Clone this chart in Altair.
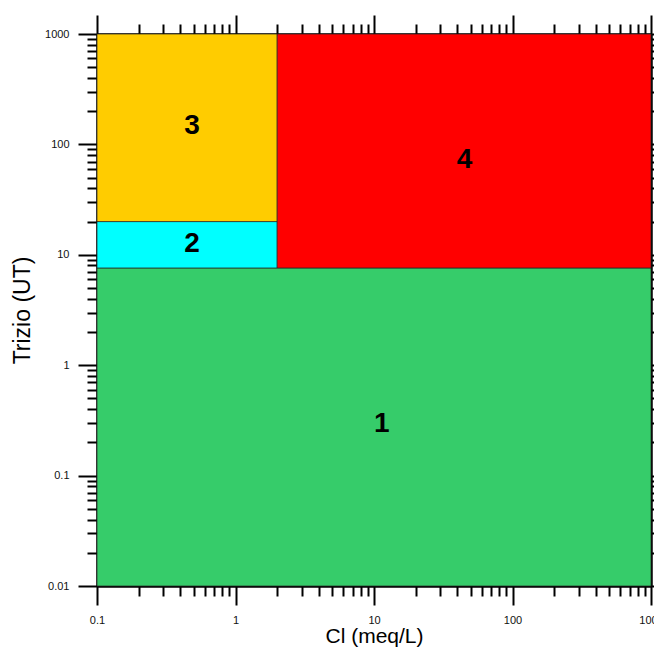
import altair as alt
import pandas as pd

# Regions (rectangles)
regions = ["1", "2", "3", "4"]
x_lo = [0.1, 0.1, 0.1, 2]
x_hi = [1000, 2, 2, 1000]
y_lo = [0.01, 7.6, 20, 7.6]
y_hi = [7.6, 20, 1000, 1000]
colors = ["#36cc6a", "#00ffff", "#ffcc00", "#ff0000"]

# Label positions (data coordinates)
label_x = [11.4, 0.485, 0.485, 45]
label_y = [0.296, 12.4, 147, 72]

# Axis ticks
x_major = [0.1, 1, 10, 100, 1000]
y_major = [0.01, 0.1, 1, 10, 100, 1000]
mult = [2, 3, 4, 5, 6, 7, 8, 9]
x_minor = [m * d for d in [0.1, 1, 10, 100] for m in mult]
y_minor = [m * d for d in [0.01, 0.1, 1, 10, 100] for m in mult]

rect_df = pd.DataFrame({"region": regions, "x": x_lo, "x2": x_hi, "y": y_lo, "y2": y_hi})
text_df = pd.DataFrame({"region": regions, "x": label_x, "y": label_y})

FONT = "Liberation Sans"
xscale = alt.Scale(type="log", domain=[0.1, 1000], nice=False)
yscale = alt.Scale(type="log", domain=[0.01, 1000], nice=False)

common = dict(grid=False, domainColor="black", domainWidth=2, tickColor="black",
              tickWidth=2, labelFont=FONT, labelColor="#111111", labelFontSize=11,
              labelFlush=False, labelOverlap=False)


def ax(orient, values, size, labels=False, title=None, **kw):
    opts = dict(common)
    opts.update(orient=orient, values=values, tickSize=size, labels=labels, title=title)
    opts.update(kw)
    return alt.Axis(**opts)


x_bottom_major = ax("bottom", x_major, 19, labels=True, title="Cl (meq/L)", format="~g",
                    labelPadding=9, titleFont=FONT, titleFontSize=21, titleFontWeight="normal",
                    titleColor="black", titleBaseline="alphabetic", titleY=56)
y_left_major = ax("left", y_major, 19, labels=True, title="Trizio (UT)", format="~g",
                  labelPadding=9, titleFont=FONT, titleFontSize=23, titleFontWeight="normal",
                  titleColor="black", titleBaseline="alphabetic", titleX=-68)

rects = alt.Chart(rect_df).mark_rect(stroke="#222222", strokeWidth=1, strokeOpacity=0.7).encode(
    x=alt.X("x:Q", scale=xscale, axis=x_bottom_major),
    x2="x2:Q",
    y=alt.Y("y:Q", scale=yscale, axis=y_left_major),
    y2="y2:Q",
    color=alt.Color("region:N", scale=alt.Scale(domain=regions, range=colors), legend=None),
)

texts = alt.Chart(text_df).mark_text(font=FONT, fontSize=28, fontWeight="bold", color="black",
                                     baseline="middle", align="center").encode(
    x=alt.X("x:Q", scale=xscale, axis=ax("bottom", x_minor, 10)),
    y=alt.Y("y:Q", scale=yscale, axis=ax("left", y_minor, 10)),
    text="region:N",
)

top_major = alt.Chart(text_df).mark_point(opacity=0).encode(
    x=alt.X("x:Q", scale=xscale, axis=ax("top", x_major, 19)),
    y=alt.Y("y:Q", scale=yscale, axis=ax("right", y_major, 19)),
)
top_minor = alt.Chart(text_df).mark_point(opacity=0).encode(
    x=alt.X("x:Q", scale=xscale, axis=ax("top", x_minor, 10)),
    y=alt.Y("y:Q", scale=yscale, axis=ax("right", y_minor, 10)),
)

chart = alt.layer(rects, texts, top_major, top_minor).resolve_axis(
    x="independent", y="independent"
).properties(
    width=554, height=552,
    autosize=alt.AutoSizeParams(type="none"),
    padding={"left": 89, "top": 26, "right": 3, "bottom": 61},
).configure_view(stroke=None)

chart.save("out.html", embed_options={"renderer": "svg", "actions": False})
